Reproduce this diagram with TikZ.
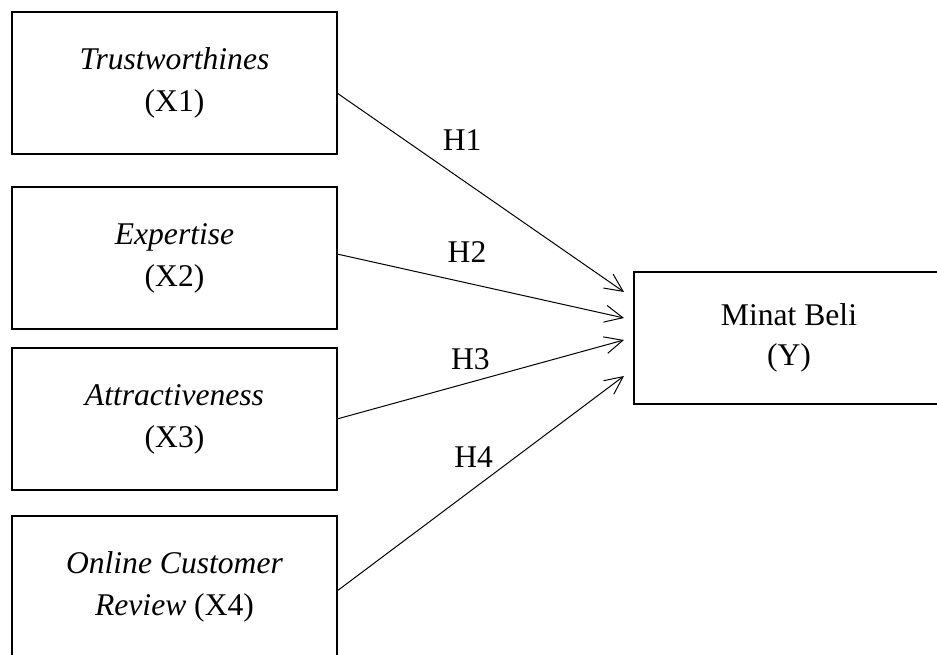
\documentclass[tikz,border=0pt]{standalone}
\usepackage{fontspec}
\setmainfont{Liberation Serif}
\usetikzlibrary{positioning,arrows.meta}

\begin{document}
\begin{tikzpicture}[
    x=1pt, y=1pt,
    node distance=30pt,
 mybox/.style = {
        draw, rectangle, align=center, line width=1.9pt,
        minimum width=325pt, minimum height=142pt,
        font=\fontsize{31.6}{42}\selectfont, inner sep=0pt, outer sep=0pt},
 myboxY/.style = {
        draw, rectangle, align=center, line width=1.9pt,
        minimum width=310pt, minimum height=132pt,
        font=\fontsize{31.6}{40}\selectfont, inner sep=0pt, outer sep=0pt},
 myhyp/.style = {
        font=\fontsize{31.6}{42}\selectfont, inner sep=0pt},
     arrow/.style = {line width=1pt,-{Straight Barb[length=18pt,width=17pt,line width=1pt]}}
                    ]
\useasboundingbox (0,0) rectangle (937,655);
\clip (0,0) rectangle (937,655);
% the boxes on the left
\node (x1) [mybox] at (174.5,572) {\textit{Trustworthines}\\(X1)};
\node (x2) [mybox,below=33pt of x1] {\textit{Expertise}\\(X2)};
\node (x3) [mybox,below=19pt of x2] {\textit{Attractiveness}\\(X3)};
\node (x4) [mybox,below=26pt of x3] {\textit{Online Customer}\\\textit{Review} (X4)};
% the box on the right
\node (y) [myboxY] at (789,317) {Minat Beli\\(Y)};
% the arrows
\draw[arrow] ([yshift=-10pt]x1.east) -- node[myhyp,pos=.436,above=29pt] {H1} ([xshift=-10pt,yshift=46pt]y.west);
\draw[arrow] ([yshift=4pt]x2.east) -- node[myhyp,pos=.453,above=20pt] {H2} ([xshift=-10pt,yshift=20pt]y.west);
\draw[arrow] (x3.east) -- node[myhyp,pos=.465,above=12pt] {H3} ([xshift=-10pt,yshift=-2pt]y.west);
\draw[arrow] ([yshift=-4pt]x4.east) -- node[myhyp,pos=.476,above=21pt] {H4} ([xshift=-10pt,yshift=-38pt]y.west);
\end{tikzpicture}
\end{document}
